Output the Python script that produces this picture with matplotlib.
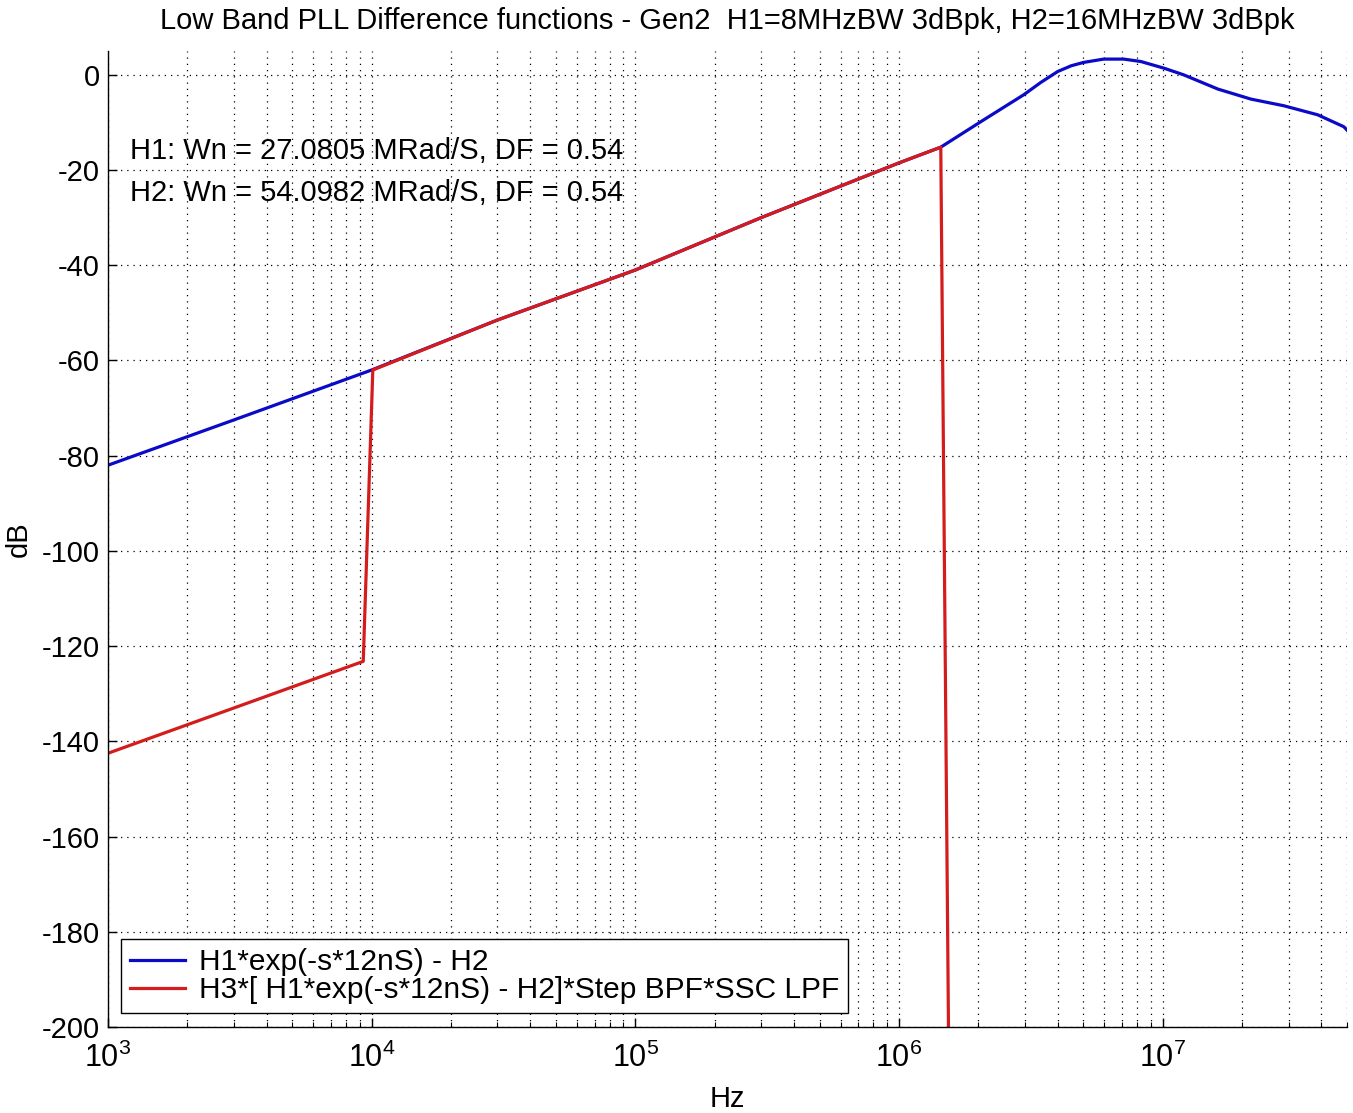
import numpy as np
import matplotlib
matplotlib.use('Agg')
import matplotlib.pyplot as plt
from matplotlib.ticker import LogLocator, NullFormatter

# blue: H1*exp(-s*12nS) - H2
freq_blue = [1e3, 3e3, 1e4, 3e4, 1e5, 3e5, 1e6, 1.44e6, 2.09e6, 2.97e6, 3.45e6,
             4.0e6, 4.5e6, 5.01e6, 5.97e6, 7.11e6, 8.25e6, 1.01e7, 1.2e7,
             1.62e7, 2.16e7, 2.88e7, 3.87e7, 4.86e7, 5e7]
db_blue = [-82, -72.5, -62, -51.5, -41, -30, -18.5, -15.2, -9.5, -4.2, -1.6,
           0.7, 1.9, 2.6, 3.3, 3.3, 2.8, 1.4, 0, -3, -5.1, -6.5, -8.4, -10.9,
           -11.6]

# red: H3*[...]*Step BPF*SSC LPF
freq_red = [1e3, 3e3, 9.29e3, 1.01e4, 3e4, 1e5, 3e5, 1e6, 1.44e6, 1.54e6, 1.55e6]
db_red = [-142.5, -133, -123.2, -62, -51.5, -41, -30, -18.5, -15.2, -200, -205]

yticks = list(range(-200, 1, 20))
title = "Low Band PLL Difference functions - Gen2  H1=8MHzBW 3dBpk, H2=16MHzBW 3dBpk"
notes = ["H1: Wn = 27.0805 MRad/S, DF = 0.54",
         "H2: Wn = 54.0982 MRad/S, DF = 0.54"]
labels = ["H1*exp(-s*12nS) - H2",
          "H3*[ H1*exp(-s*12nS) - H2]*Step BPF*SSC LPF"]

plt.rcParams['font.family'] = ['Liberation Sans', 'DejaVu Sans']
plt.rcParams['axes.unicode_minus'] = False
fs = 21

fig = plt.figure(figsize=(13.53, 11.13), dpi=100)
ax = fig.add_axes([108/1353, 1 - 1027/1113, 1239/1353, 976/1113])

ax.semilogx(freq_blue, db_blue, color='#0a0ac8', lw=2.3, label=labels[0])
ax.semilogx(freq_red, db_red, color='#d41c1c', lw=2.3, label=labels[1])

ax.set_xlim(1e3, 5e7)
ax.set_ylim(-200, 5)
ax.set_yticks(yticks)
ax.xaxis.set_major_locator(LogLocator(base=10, numticks=20))
ax.xaxis.set_minor_locator(LogLocator(base=10, subs=np.arange(2, 10), numticks=50))
ax.xaxis.set_minor_formatter(NullFormatter())

# matlab style dotted grid
ax.grid(True, which='major', axis='both', color='k', ls=(0, (1, 4)), lw=0.9)
ax.grid(True, which='minor', axis='x', color='k', ls=(0, (1, 4)), lw=0.9)
ax.set_axisbelow(True)

for s in ['top', 'right']:
    ax.spines[s].set_visible(False)
for s in ['left', 'bottom']:
    ax.spines[s].set_linewidth(1.0)

ax.tick_params(which='major', direction='in', length=6.5, width=1.0,
               labelsize=fs, pad=6)
ax.tick_params(axis='x', which='major', labelsize=22, pad=11)
ax.tick_params(which='minor', direction='in', length=3.5, width=0.8)

ax.set_title(title, fontsize=fs, pad=16)
ax.set_xlabel("Hz", fontsize=fs, labelpad=8)
ax.set_ylabel("dB", fontsize=fs, labelpad=6)

ax.text(0.0178, 0.8975, notes[0], transform=ax.transAxes, fontsize=fs, va='center')
ax.text(0.0178, 0.8545, notes[1], transform=ax.transAxes, fontsize=fs, va='center')

leg = ax.legend(loc='lower left', bbox_to_anchor=(0.0105, 0.0143), borderaxespad=0,
                fontsize=21.5, fancybox=False, edgecolor='k', framealpha=1,
                handlelength=1.85, handletextpad=0.45, labelspacing=0.0,
                borderpad=0.3)
leg.get_frame().set_linewidth(1.0)

plt.savefig('out.png', dpi=100)
